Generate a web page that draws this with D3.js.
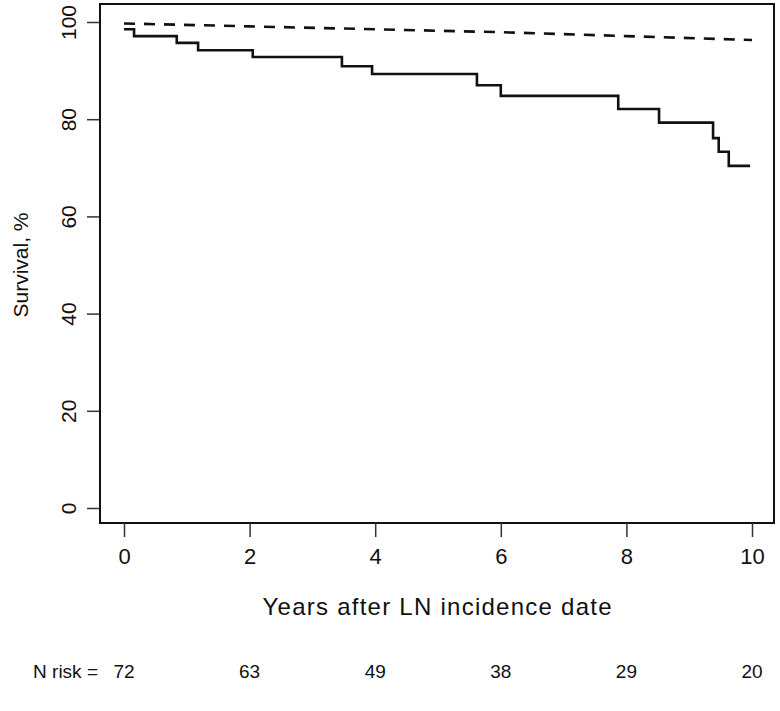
<!DOCTYPE html>
<html><head><meta charset="utf-8">
<script src="https://cdn.jsdelivr.net/npm/d3@7"></script>
<style>
body{margin:0;background:#fff;}
text{font-family:"Liberation Sans",Arial,Helvetica,sans-serif;fill:#111;}
</style></head>
<body><svg id="c" width="780" height="711"></svg>
<script>
// Observed survival (Kaplan–Meier step curve)
const kmTimes = [0, 0.16, 0.84, 1.18, 2.05, 3.47, 3.95, 5.62, 6.0, 7.87, 8.52, 9.38, 9.47, 9.63, 9.97];
const kmSurv  = [98.5, 97.1, 95.7, 94.2, 92.8, 90.9, 89.3, 87.0, 84.8, 82.1, 79.3, 76.1, 73.3, 70.4, 70.4];
// Expected survival (dashed)
const expTimes = [0, 2, 4, 6, 8, 10];
const expSurv  = [99.7, 99.1, 98.5, 97.9, 97.1, 96.3];
// Axis ticks
const xTicks = [0, 2, 4, 6, 8, 10];
const yTicks = [0, 20, 40, 60, 80, 100];
// Number at risk
const riskTimes = [0, 2, 4, 6, 8, 10];
const nRisk = [72, 63, 49, 38, 29, 20];

const svg = d3.select("#c");
const x = d3.scaleLinear().domain([0, 10]).range([124, 752]);
const y = d3.scaleLinear().domain([0, 100]).range([508, 22]);

// plot box
svg.append("rect").attr("x", 100).attr("y", 4).attr("width", 674).attr("height", 519)
  .attr("fill", "none").attr("stroke", "#111").attr("stroke-width", 2);

// x axis
const gx = svg.append("g").attr("transform", "translate(0,523)")
  .call(d3.axisBottom(x).tickValues(xTicks).tickSize(14).tickPadding(11).tickFormat(d3.format("d")));
gx.select(".domain").remove();
gx.selectAll("line").attr("stroke", "#333").attr("stroke-width", 1.5);
gx.selectAll("text").attr("font-size", 22).style("fill", "#111");

// y axis
const gy = svg.append("g").attr("transform", "translate(99,0)")
  .call(d3.axisLeft(y).tickValues(yTicks).tickSize(12).tickFormat(d3.format("d")));
gy.select(".domain").remove();
gy.selectAll("line").attr("stroke", "#333").attr("stroke-width", 1.5);
gy.selectAll("text").attr("font-size", 21).style("fill", "#111")
  .attr("x", null).attr("dy", null)
  .attr("text-anchor", "middle")
  .attr("transform", "translate(-29,0) rotate(-90)")
  .attr("dominant-baseline", "middle");

// axis titles
svg.append("text").attr("x", 437).attr("y", 615).attr("text-anchor", "middle")
  .attr("font-size", 24).attr("textLength", 349).attr("lengthAdjust", "spacing")
  .text("Years after LN incidence date");
svg.append("text").attr("transform", "translate(28,265) rotate(-90)").attr("text-anchor", "middle")
  .attr("font-size", 21).text("Survival, %");

// curves
const km = kmTimes.map((t, i) => [t, kmSurv[i]]);
const ex = expTimes.map((t, i) => [t, expSurv[i]]);
const stepLine = d3.line().x(d => x(d[0])).y(d => y(d[1])).curve(d3.curveStepAfter);
const line = d3.line().x(d => x(d[0])).y(d => y(d[1]));
svg.append("path").attr("d", stepLine(km)).attr("fill", "none")
  .attr("stroke", "#111").attr("stroke-width", 2.6);
svg.append("path").attr("d", line(ex)).attr("fill", "none")
  .attr("stroke", "#111").attr("stroke-width", 2.6).attr("stroke-dasharray", "11,9");

// number at risk
svg.append("text").attr("x", 98).attr("y", 678).attr("text-anchor", "end")
  .attr("font-size", 19).text("N risk =");
svg.selectAll(".risk").data(nRisk).enter().append("text").attr("class", "risk")
  .attr("x", (d, i) => x(riskTimes[i])).attr("y", 678).attr("text-anchor", "middle")
  .attr("font-size", 19).text(d => d);
</script></body></html>
